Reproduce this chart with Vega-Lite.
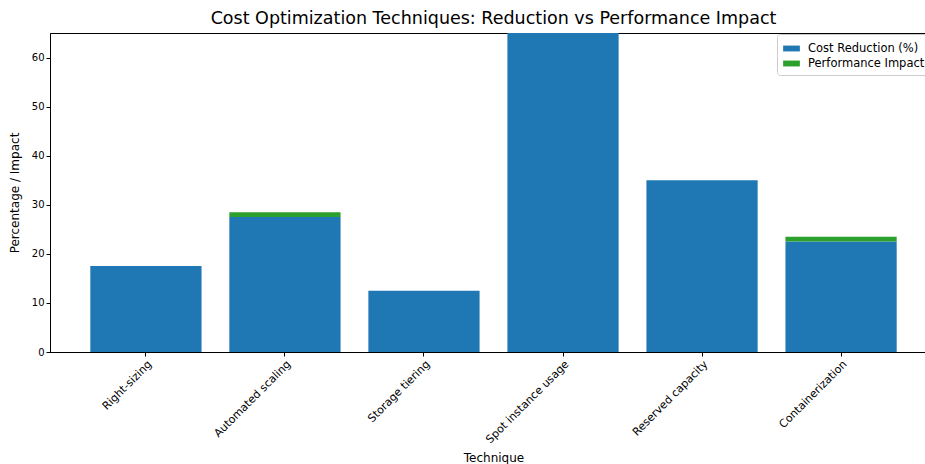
{
  "$schema": "https://vega.github.io/schema/vega-lite/v6.json",
  "autosize": "none",
  "width": 887,
  "height": 319,
  "padding": {"left": 50, "top": 33, "right": 0, "bottom": 112},
  "background": "white",
  "title": {"text": "Cost Optimization Techniques: Reduction vs Performance Impact", "font": "DejaVu Sans", "fontSize": 17.5, "fontWeight": "normal", "color": "black", "offset": 6, "anchor": "middle"},
  "config": {
    "view": {"stroke": "black", "strokeWidth": 1},
    "axis": {"labelFont": "DejaVu Sans", "titleFont": "DejaVu Sans", "labelColor": "black", "titleColor": "black", "domainColor": "black", "tickColor": "black", "grid": false, "titleFontWeight": "normal", "labelFontSize": 10, "titleFontSize": 12, "tickSize": 4}
  },
  "data": {"values": [
    {"technique": "Right-sizing", "metric": "Cost Reduction (%)", "order": 0, "value": 17.5},
    {"technique": "Right-sizing", "metric": "Performance Impact", "order": 1, "value": 0},
    {"technique": "Automated scaling", "metric": "Cost Reduction (%)", "order": 0, "value": 27.5},
    {"technique": "Automated scaling", "metric": "Performance Impact", "order": 1, "value": 1},
    {"technique": "Storage tiering", "metric": "Cost Reduction (%)", "order": 0, "value": 12.5},
    {"technique": "Storage tiering", "metric": "Performance Impact", "order": 1, "value": 0},
    {"technique": "Spot instance usage", "metric": "Cost Reduction (%)", "order": 0, "value": 70},
    {"technique": "Spot instance usage", "metric": "Performance Impact", "order": 1, "value": 0},
    {"technique": "Reserved capacity", "metric": "Cost Reduction (%)", "order": 0, "value": 35},
    {"technique": "Reserved capacity", "metric": "Performance Impact", "order": 1, "value": 0},
    {"technique": "Containerization", "metric": "Cost Reduction (%)", "order": 0, "value": 22.5},
    {"technique": "Containerization", "metric": "Performance Impact", "order": 1, "value": 1}
  ]},
  "mark": {"type": "bar", "clip": true},
  "encoding": {
    "x": {"field": "technique", "type": "nominal", "sort": null, "title": "Technique",
      "scale": {"paddingInner": 0.2, "paddingOuter": 0.29},
      "axis": {"labelAngle": -45, "labelAlign": "right", "labelBaseline": "top", "labelFontSize": 11, "titlePadding": 8, "labelOverlap": false}},
    "y": {"field": "value", "type": "quantitative", "stack": "zero", "title": "Percentage / Impact",
      "scale": {"domain": [0, 65], "nice": false, "zero": true},
      "axis": {"values": [0, 10, 20, 30, 40, 50, 60], "titlePadding": 10}},
    "order": {"field": "order", "type": "quantitative"},
    "color": {"field": "metric", "type": "nominal", "title": null,
      "scale": {"domain": ["Cost Reduction (%)", "Performance Impact"], "range": ["#1f77b4", "#2ca02c"]},
      "legend": {"orient": "none", "legendX": 727, "legendY": 1, "symbolType": "M-1,-0.35L1,-0.35L1,0.35L-1,0.35Z", "symbolSize": 280, "symbolStrokeWidth": 0, "labelFont": "DejaVu Sans", "labelFontSize": 11.5, "labelColor": "black", "labelOffset": 8, "strokeColor": "#cccccc", "fillColor": "white", "padding": 6, "cornerRadius": 3, "rowPadding": 1}}
  }
}
